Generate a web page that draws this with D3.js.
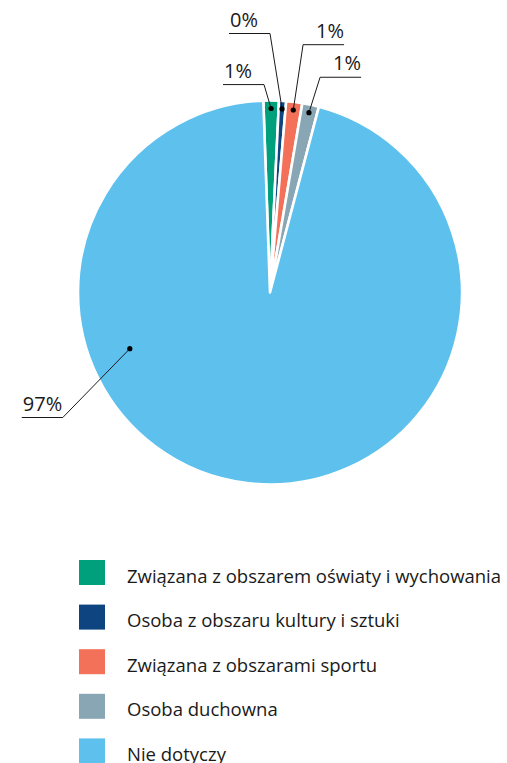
<!DOCTYPE html>
<html>
<head>
<meta charset="utf-8">
<script src="https://cdn.jsdelivr.net/npm/d3@7"></script>
<style>
  html, body { margin: 0; padding: 0; background: #fff; }
  svg { display: block; }
</style>
</head>
<body>
<svg id="chart" width="507" height="763"></svg>
<script>
// ---- data ----
const categories = [
  "Związana z obszarem oświaty i wychowania",
  "Osoba z obszaru kultury i sztuki",
  "Związana z obszarami sportu",
  "Osoba duchowna",
  "Nie dotyczy"
];
const values = [1.3, 0.6, 1.35, 1.4, 95.35];
const valueLabels = ["1%", "0%", "1%", "1%", "97%"];
const colors = ["#00a07c", "#0e4480", "#f47159", "#88a6b4", "#5dc0ed"];

// ---- label layout (styling) ----
const leader = [
  { frac: 0.5,  dotR: 184, elbowR: 208, elbowDeg: -1.65, dir: -1 },
  { frac: 0.5,  dotR: 184, elbowR: 259, elbowDeg: 0,     dir: -1 },
  { frac: 0.5,  dotR: 184, elbowR: 250, elbowDeg: 7.6,   dir: 1 },
  { frac: 0.5,  dotR: 184, elbowR: 221, elbowDeg: 13.1,  dir: 1 },
  { frac: 0.68, dotR: 151, elbowR: 242, elbowDeg: 238.9, dir: -1 }
];

const svg = d3.select("#chart");
const cx = 270, cy = 292.5, R = 192;
const startDeg = -2;
const rad = d => d * Math.PI / 180;

const pie = d3.pie().sort(null).value(d => d)
  .startAngle(rad(startDeg)).endAngle(rad(startDeg + 360));
const arcs = pie(values);
const arc = d3.arc().innerRadius(0).outerRadius(R);

const g = svg.append("g").attr("transform", `translate(${cx},${cy})`);
g.selectAll("path.slice").data(arcs).enter().append("path")
  .attr("class", "slice")
  .attr("d", arc)
  .attr("fill", (d, i) => colors[i])
  .attr("stroke", "#fff")
  .attr("stroke-width", 2.6)
  .attr("stroke-linejoin", "round");

const polar = (r, a) => [r * Math.sin(a), -r * Math.cos(a)];

const lineLen = 41;
const lg = g.append("g");
arcs.forEach((d, i) => {
  const L = leader[i];
  const a = d.startAngle + (d.endAngle - d.startAngle) * L.frac;
  const [dx, dy] = polar(L.dotR, a);
  const [ex, ey] = polar(L.elbowR, rad(L.elbowDeg));
  const endX = ex + L.dir * lineLen;
  lg.append("polyline")
    .attr("points", `${dx},${dy} ${ex},${ey} ${endX},${ey}`)
    .attr("fill", "none")
    .attr("stroke", "#1a1a1a")
    .attr("stroke-width", 1);
  lg.append("circle").attr("cx", dx).attr("cy", dy).attr("r", 2.6).attr("fill", "#000");
  lg.append("text")
    .attr("x", L.dir < 0 ? endX + 1 : endX)
    .attr("y", ey - 7)
    .attr("text-anchor", L.dir < 0 ? "start" : "end")
    .attr("font-family", "'Open Sans', sans-serif")
    .attr("font-size", 20)
    .attr("fill", "#1a1a1a")
    .text(valueLabels[i]);
});

// ---- legend ----
const legend = svg.append("g");
const legY0 = 560, legStep = 44.6;
categories.forEach((c, i) => {
  const y = legY0 + i * legStep;
  legend.append("rect").attr("x", 79).attr("y", y).attr("width", 26).attr("height", 25)
    .attr("fill", colors[i]);
  legend.append("text").attr("x", 127).attr("y", y + 22.5)
    .attr("font-family", "'Open Sans', sans-serif")
    .attr("font-size", 18.5)
    .attr("fill", "#1a1a1a")
    .text(c);
});
</script>
</body>
</html>
